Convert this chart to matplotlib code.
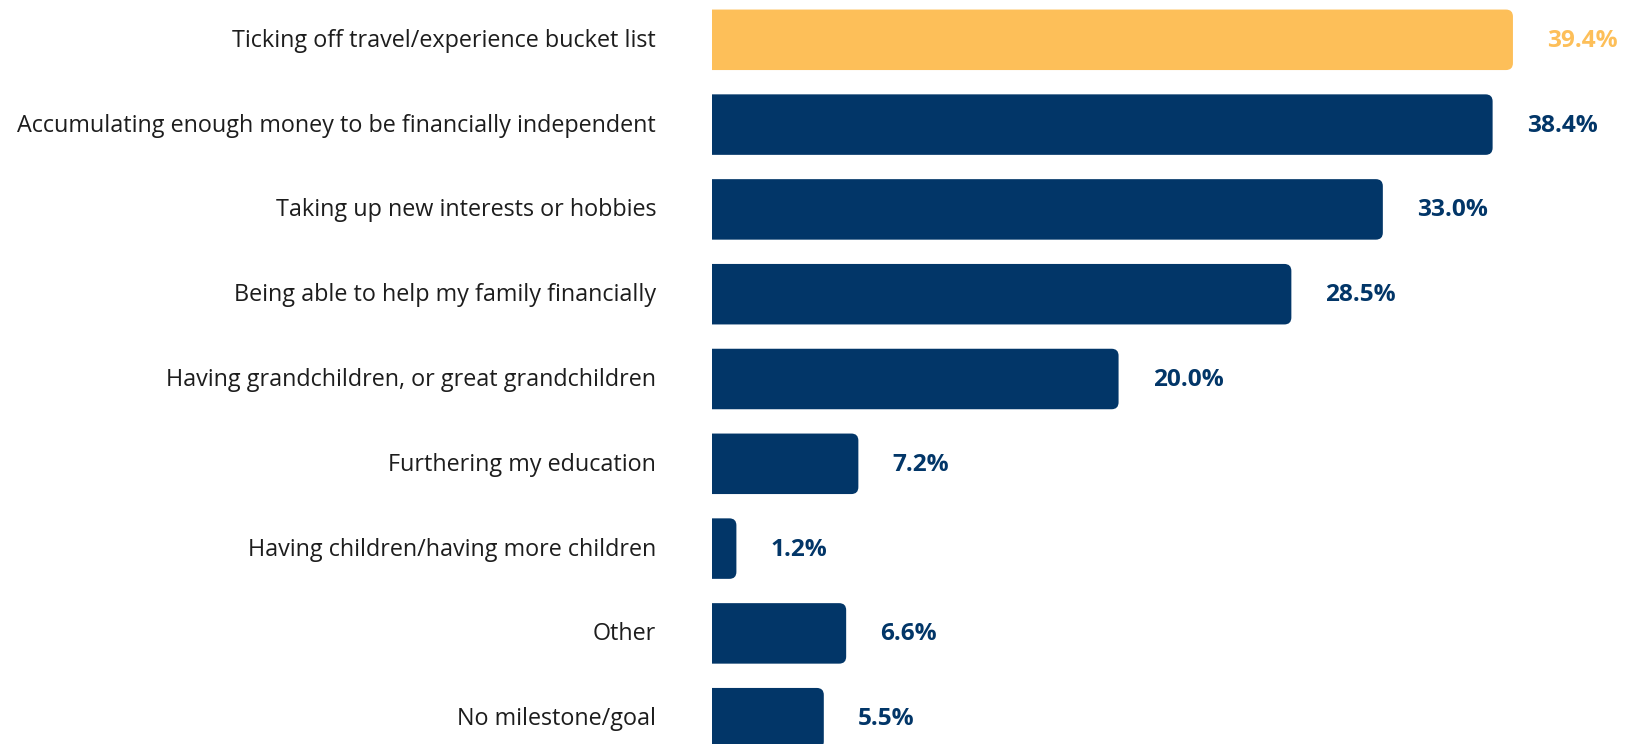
import matplotlib
matplotlib.use("Agg")
import matplotlib.pyplot as plt
from matplotlib.patches import FancyBboxPatch

categories = [
    "Ticking off travel/experience bucket list",
    "Accumulating enough money to be financially independent",
    "Taking up new interests or hobbies",
    "Being able to help my family financially",
    "Having grandchildren, or great grandchildren",
    "Furthering my education",
    "Having children/having more children",
    "Other",
    "No milestone/goal",
]
values = [39.4, 38.4, 33.0, 28.5, 20.0, 7.2, 1.2, 6.6, 5.5]
value_labels = ["39.4%", "38.4%", "33.0%", "28.5%", "20.0%", "7.2%", "1.2%", "6.6%", "5.5%"]
highlight = [True, False, False, False, False, False, False, False, False]

NAVY = "#023668"
GOLD = "#FDBF59"

W, H, DPI = 1628, 744, 100
STEP_PX = 84.8        # vertical distance between bar centres
FIRST_PX = 39.8       # centre of the first bar from the top edge
fig = plt.figure(figsize=(W / DPI, H / DPI), dpi=DPI)
ax = fig.add_axes([712 / W, 0, 1 - 712 / W, 1])
ax.set_xlim(0, 45.06)
ax.set_ylim((H - FIRST_PX) / STEP_PX, -FIRST_PX / STEP_PX)
ax.axis("off")

px_x = (W - 712) / 45.06          # pixels per percentage point
radius_px = 7
r_x = radius_px / px_x
aspect = (radius_px / STEP_PX) / r_x
bar_h = 60.5 / STEP_PX

for i, (v, hl) in enumerate(zip(values, highlight)):
    color = GOLD if hl else NAVY
    patch = FancyBboxPatch(
        (-2, i - bar_h / 2), v + 2, bar_h,
        boxstyle=f"round,pad=0,rounding_size={r_x}",
        mutation_aspect=aspect,
        facecolor=color, edgecolor="none", clip_on=True,
    )
    ax.add_patch(patch)
    ax.annotate(value_labels[i], xy=(v, i), xytext=(34, -1), textcoords="offset pixels",
                ha="left", va="center", fontsize=17.6, fontweight="bold",
                family="Open Sans", color=color, annotation_clip=False)
    ax.annotate(categories[i], xy=(0, i), xycoords=("axes fraction", "data"),
                xytext=(-56, -1), textcoords="offset pixels",
                ha="right", va="center", fontsize=16.8, family="Open Sans",
                color="#1d1d1d", annotation_clip=False)

fig.savefig("out.png", dpi=DPI)
